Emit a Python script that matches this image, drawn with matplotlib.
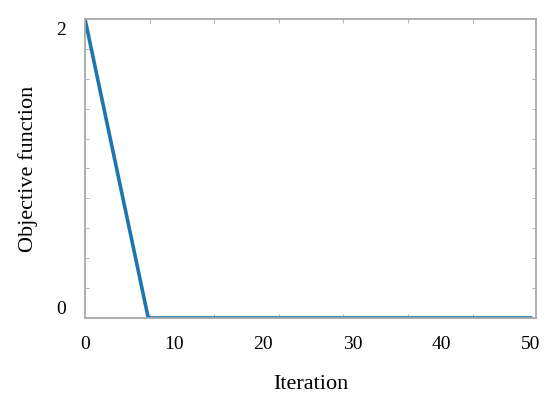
import matplotlib.pyplot as plt
import matplotlib.transforms as mtransforms
import numpy as np

# data
iteration = [0, 7.1, 50]
objective = [2.0, 0.0, 0.0]
x_tick_labels = [0, 10, 20, 30, 40, 50]
y_tick_labels = [0, 2]

plt.rcParams['font.family'] = ['Liberation Serif', 'DejaVu Serif']
plt.rcParams['font.size'] = 14

fig = plt.figure(figsize=(5.5, 4.04), dpi=100)
ax = fig.add_axes([0.1545, 0.2129, 0.82, 0.7401])

ax.plot(iteration, objective, color='#1f74b1', linewidth=2.6, solid_joinstyle='miter')

ax.set_xlim(0, 50.6)
ax.set_ylim(0, 2.0)

spine_col = '#a8a8a8'
for s in ax.spines.values():
    s.set_color(spine_col)
    s.set_linewidth(1.3)

ax.set_xticks(x_tick_labels)
ax.set_yticks(y_tick_labels)
ax.tick_params(axis='both', which='major', length=0, labelsize=14)
ax.tick_params(axis='x', which='major', pad=13)
ax.tick_params(axis='y', which='major', pad=14)
ax.set_xticks(np.arange(7.25, 50, 7.25), minor=True)
ax.set_yticks(np.arange(0.2, 2.0, 0.2), minor=True)
ax.tick_params(which='minor', direction='in', length=3, color=spine_col,
               top=True, right=True)

# y tick labels sit a little inside the range in the original
shifts = {0: 0.10, 2: -0.10}
for val, lab in zip(y_tick_labels, ax.get_yticklabels()):
    off = mtransforms.ScaledTranslation(0, shifts[val], fig.dpi_scale_trans)
    lab.set_transform(lab.get_transform() + off)

ax.set_xlabel('Iteration', fontsize=16, labelpad=16)
ax.set_ylabel('Objective function', fontsize=16, labelpad=13)

fig.savefig('out.png', dpi=100)
